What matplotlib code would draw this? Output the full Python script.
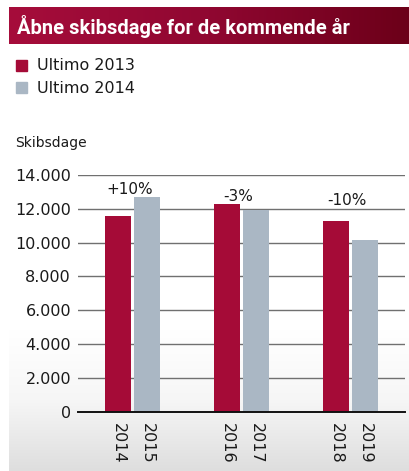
import numpy as np
import matplotlib
matplotlib.use("Agg")
import matplotlib.pyplot as plt
from matplotlib.colors import LinearSegmentedColormap
from matplotlib.patches import Rectangle

# Open ship days per year, at end of 2013 and end of 2014
year_labels = ["2014", "2015", "2016", "2017", "2018", "2019"]
ultimo_2013 = [11550, 12280, 11270]
ultimo_2014 = [12700, 11950, 10150]
changes = ["+10%", "-3%", "-10%"]
series_names = ["Ultimo 2013", "Ultimo 2014"]
y_ticks = [0, 2000, 4000, 6000, 8000, 10000, 12000, 14000]

RED = "#a50b37"
GREY = "#aab7c4"

plt.rcParams["font.family"] = ["DejaVu Sans"]

W, H = 409, 471
fig = plt.figure(figsize=(W / 100, H / 100), dpi=100)

# Background panel and title banner, drawn in pixel coordinates
bg = fig.add_axes([0, 0, 1, 1])
bg.axis("off")

panel = LinearSegmentedColormap.from_list("panel", ["#ffffff", "#f6f6f6", "#dedede"])
grad_v = np.linspace(0, 1, 256).reshape(-1, 1)
bg.imshow(grad_v, cmap=panel, extent=(9, W, H, 330), aspect="auto", zorder=0)

banner = LinearSegmentedColormap.from_list("banner", ["#a60d3b", "#900731", "#6c0019"])
grad_h = np.linspace(0, 1, 256).reshape(1, -1)
bg.imshow(grad_h, cmap=banner, extent=(9, W, 44, 7), aspect="auto", zorder=1)
bg.set_xlim(0, W)
bg.set_ylim(H, 0)

bg.text(17, 26.5, "Åbne skibsdage for de kommende år", color="white",
        fontsize=14.5, fontweight="bold", va="center", ha="left",
        family=["Roboto", "DejaVu Sans"], zorder=2)

# Legend
for i, (name, col) in enumerate(zip(series_names, [RED, GREY])):
    y = 65 + i * 22.5
    bg.add_patch(Rectangle((16, y - 5.5), 11, 11, color=col, zorder=2))
    bg.text(37, y + 1, name, fontsize=11.5, va="center", ha="left",
            color="#1a1a1a", zorder=2)

bg.text(15, 143, "Skibsdage", fontsize=10, va="center", ha="left",
        color="#1a1a1a", zorder=2)

# Bar chart
ax = fig.add_axes([78 / W, (H - 411.7) / H, (405 - 78) / W, (411.7 - 175) / H])
ax.patch.set_alpha(0)
x = np.arange(len(ultimo_2013))
off = 0.133
width = 0.245
ax.bar(x - off, ultimo_2013, width, color=RED, zorder=3)
ax.bar(x + off, ultimo_2014, width, color=GREY, zorder=3)

ax.set_xlim(-0.5, 2.5)
ax.set_ylim(0, 14000)
ax.set_yticks(y_ticks)
ax.set_yticklabels([f"{v:,}".replace(",", ".") for v in y_ticks])
for v in y_ticks[1:]:
    ax.axhline(v, color="#707070", lw=1.0, zorder=1)
ax.axhline(0, color="#111111", lw=1.4, zorder=4, clip_on=False)

bar_pos = np.ravel(np.column_stack([x - off, x + off]))
ax.set_xticks(bar_pos)
ax.set_xticklabels(year_labels, rotation=-90, va="top", ha="center")
ax.tick_params(axis="x", length=0, pad=8, labelsize=11.5, labelcolor="#1a1a1a")
ax.tick_params(axis="y", length=0, pad=5, labelsize=11.5, labelcolor="#1a1a1a")
for s in ax.spines.values():
    s.set_visible(False)

# Change labels above each pair
label_y = [12880, 12480, 12230]
for xi, txt, ly in zip(x, changes, label_y):
    ax.text(xi - 0.03, ly, txt, ha="center", va="baseline", fontsize=11,
            color="#1a1a1a", zorder=5)

fig.savefig("out.png", dpi=100)
